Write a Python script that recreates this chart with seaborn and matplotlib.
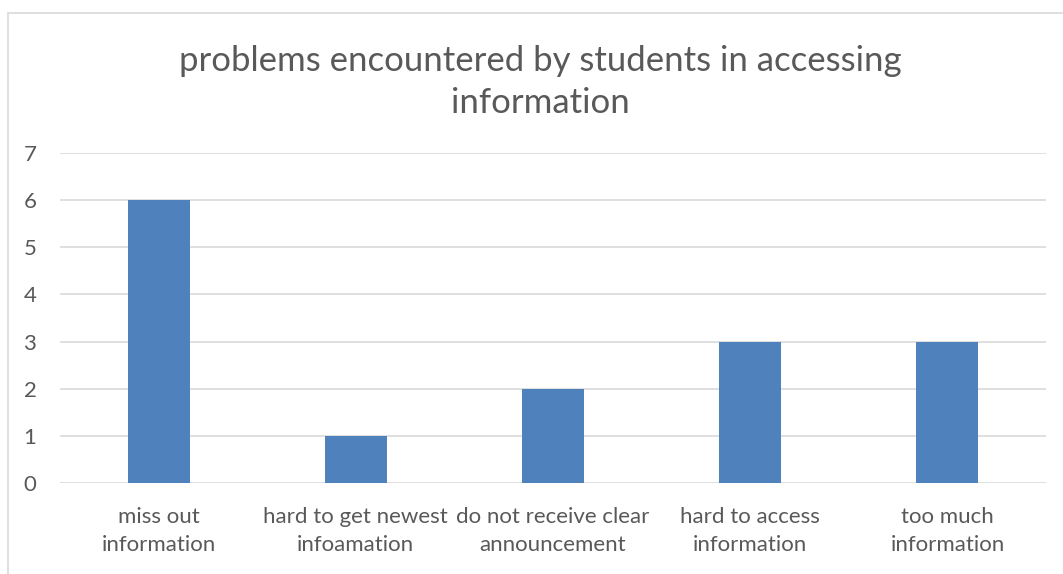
import matplotlib
matplotlib.use("Agg")
import matplotlib.pyplot as plt
import seaborn as sns
import pandas as pd
from matplotlib.patches import Rectangle

categories = ["miss out\ninformation", "hard to get newest\ninfoamation",
              "do not receive clear\nannouncement", "hard to access\ninformation",
              "too much\ninformation"]
values = [6, 1, 2, 3, 3]
title = "problems encountered by students in accessing\ninformation"

sns.set_theme(style="white")
plt.rcParams['font.family'] = ['Lato', 'DejaVu Sans']

W, H = 1063, 574
fig = plt.figure(figsize=(W/100, H/100), dpi=100)
ax = fig.add_axes([60/W, 1-483/H, (1046-60)/W, (483-153)/H])

df = pd.DataFrame({"cat": categories, "val": values})
sns.barplot(data=df, x="cat", y="val", color="#4F81BD", width=0.315, ax=ax,
            saturation=1, zorder=3, linewidth=0)

ax.set_ylim(0, 7)
ax.set_yticks(range(0, 8))
ax.set_xlim(-0.5, len(categories)-0.5)
ax.grid(axis='y', color="#D9D9D9", linewidth=1.2, zorder=0)
ax.set_axisbelow(True)
for s in ax.spines.values():
    s.set_visible(False)
ax.set_xlabel("")
ax.set_ylabel("")
ax.tick_params(axis='both', length=0, labelsize=16, labelcolor="#595959")
ax.tick_params(axis='y', pad=17)
ax.tick_params(axis='x', pad=17)
for lab in ax.get_xticklabels():
    lab.set_linespacing(1.5)

fig.text(540/W, 1-82/H, title, ha='center', va='center', fontsize=25,
         color="#595959", linespacing=1.35)

fig.patches.append(Rectangle((8/W, -0.05), 1.2, 1-13/H+0.05, transform=fig.transFigure,
                             fill=False, edgecolor="#D9D9D9", linewidth=1.2))

fig.savefig("out.png", dpi=100)
